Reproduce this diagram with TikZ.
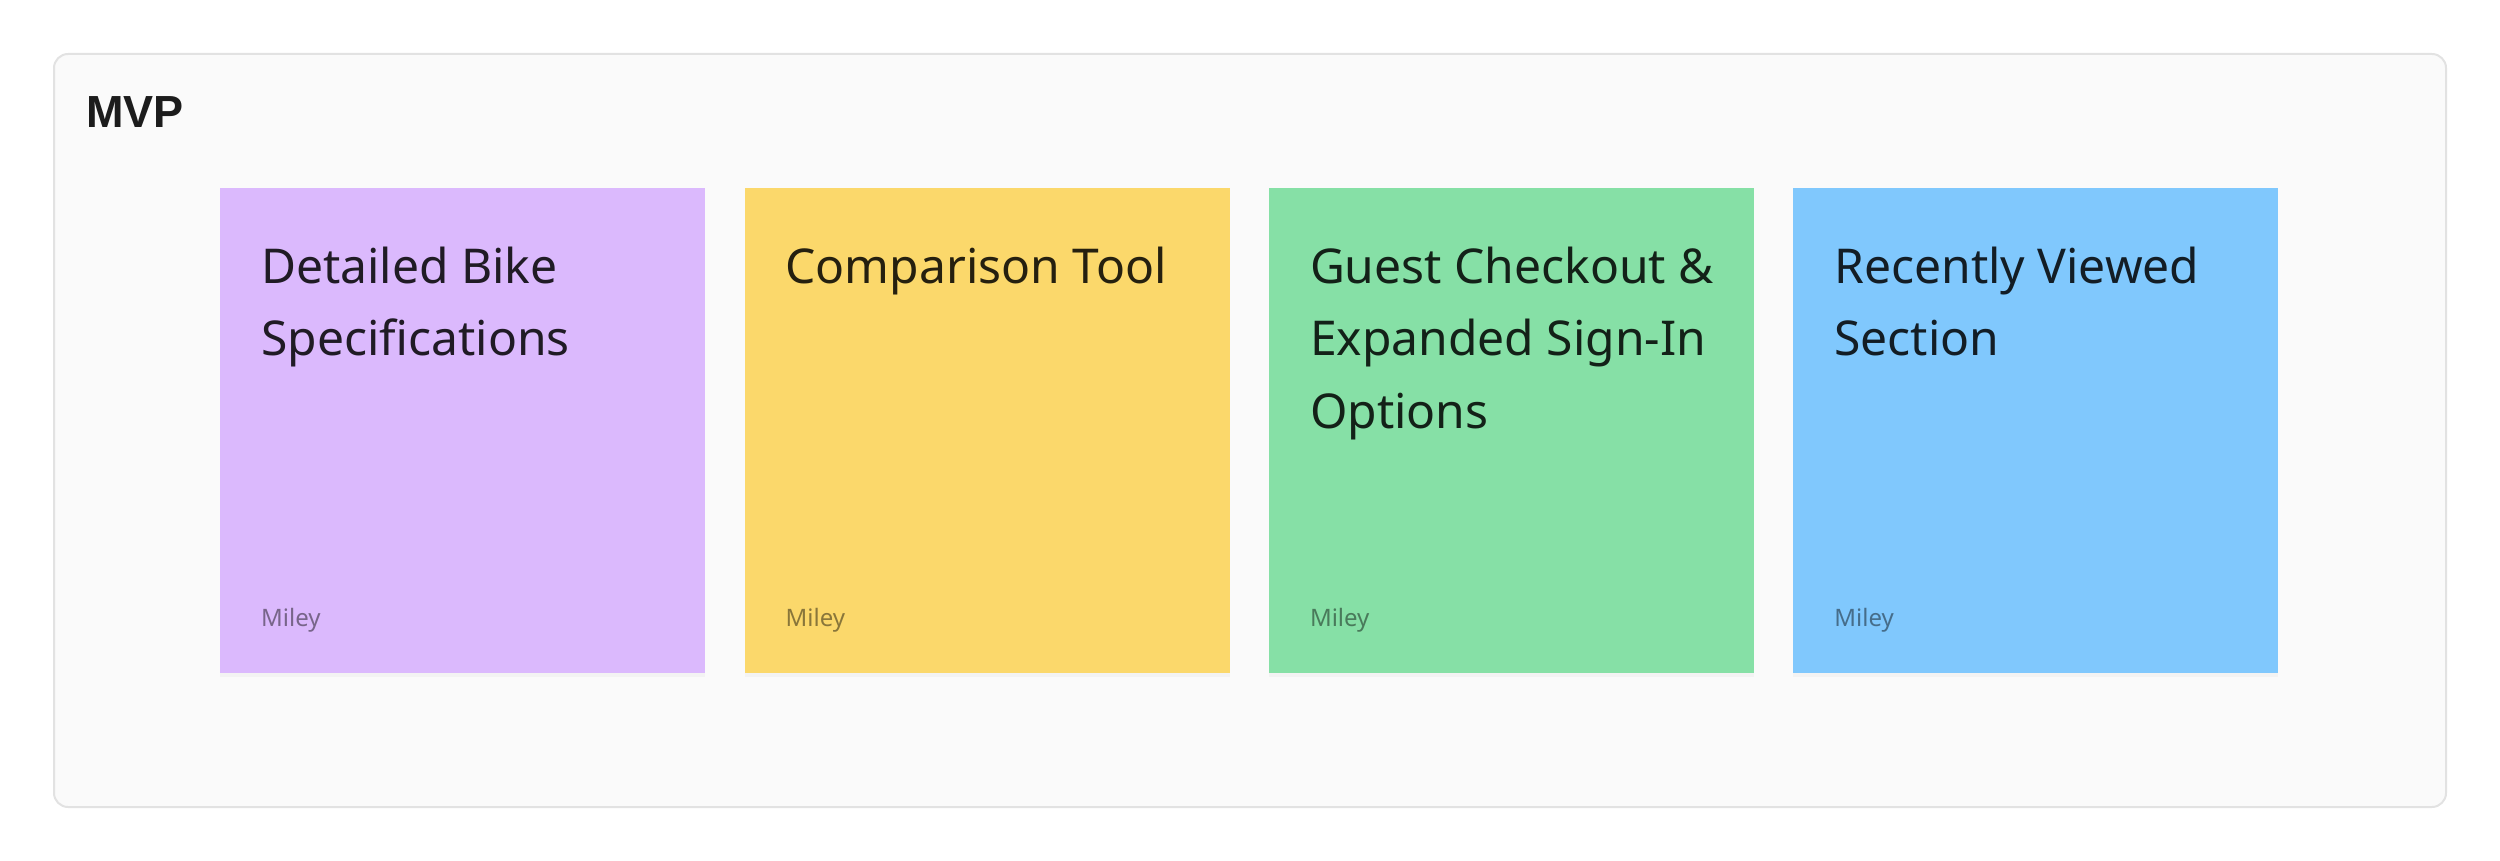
\documentclass[tikz,border=0pt]{standalone}
\usepackage{fontspec}
\setmainfont{Noto Sans}
\newfontfamily\headfont{Liberation Sans}
\usetikzlibrary{positioning, shadows}

\definecolor{boardfill}{RGB}{250,250,250}
\definecolor{boardline}{RGB}{226,226,226}
\definecolor{notepurple}{RGB}{219,185,253}
\definecolor{noteyellow}{RGB}{251,216,107}
\definecolor{notegreen}{RGB}{134,224,166}
\definecolor{noteblue}{RGB}{128,200,253}

\begin{document}
\begin{tikzpicture}[
  x=1pt, y=-1pt,
  board/.style={draw=boardline, line width=2pt, fill=boardfill, rounded corners=14pt},
  note/.style={fill=#1, minimum width=485pt, minimum height=485pt, inner sep=0,
    drop shadow={shadow xshift=0pt, shadow yshift=-4pt, opacity=0.05}},
  notetitle/.style={anchor=base west, align=left, inner sep=0,
    font=\fontsize{48}{72.5}\selectfont, text=black, text opacity=0.85},
  noteowner/.style={anchor=base west, inner sep=0,
    font=\fontsize{24}{28}\selectfont, text=black, text opacity=0.45},
  node distance=39pt
]
\useasboundingbox (0,0) rectangle (2500,861);
\draw[board] (54,54) rectangle (2446,807);
\node[anchor=base west, inner sep=0, font=\headfont\bfseries\fontsize{45}{50}\selectfont,
  text={rgb,255:red,28;green,28;blue,28}] (mvp) at (86,128) {MVP};

% the four notes
\node[note=notepurple, anchor=north west] (n1) at (220,188) {};
\node[note=noteyellow, right=of n1] (n2) {};
\node[note=notegreen, right=of n2] (n3) {};
\node[note=noteblue, right=of n3] (n4) {};

% base anchor sits on the last line
\node[notetitle] (t1) at ([shift={(41pt,-167.5pt)}]n1.north west) {Detailed Bike\\Specifications};
\node[notetitle] (t2) at ([shift={(41pt,-95pt)}]n2.north west) {Comparison Tool};
\node[notetitle] (t3) at ([shift={(41pt,-240pt)}]n3.north west) {Guest Checkout \&\\Expanded Sign-In\\Options};
\node[notetitle] (t4) at ([shift={(41pt,-167.5pt)}]n4.north west) {Recently Viewed\\Section};

\foreach \i in {1,...,4}
  \node[noteowner] (o\i) at ([shift={(41pt,-438pt)}]n\i.north west) {Miley};
\end{tikzpicture}
\end{document}
